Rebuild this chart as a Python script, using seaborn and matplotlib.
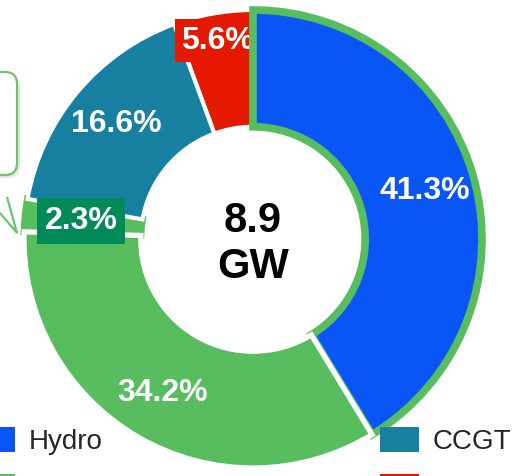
import matplotlib
matplotlib.use("Agg")
import matplotlib.pyplot as plt
from matplotlib.patches import Patch, FancyBboxPatch, Polygon
from matplotlib.transforms import IdentityTransform
import seaborn as sns

# installed capacity split (share of total, %)
sources = ["Hydro", "Renewables", "New renewables", "CCGT", "Other thermal"]
shares = [41.3, 34.2, 2.3, 16.6, 5.6]
colours = ["#0A55F6", "#57BD5F", "#57BD5F", "#1780A1", "#E51900"]
total_gw = 8.9

# legend (two columns; the second row is cut off in the slide)
legend_left = ["Hydro", ""]
legend_left_colours = ["#0A55F6", "#57BD5F"]
legend_right = ["CCGT", ""]
legend_right_colours = ["#1780A1", "#E51900"]

highlight = "#57BD5F"
label_box = "#008A57"

sns.set_theme(style="white")
plt.rcParams["font.family"] = ["Liberation Sans", "DejaVu Sans"]

W, H = 513, 476
fig = plt.figure(figsize=(W / 100, H / 100), dpi=100)
ax = fig.add_axes([0, 0, 1, 1])

wedges, texts, autotexts = ax.pie(
    shares, colors=colours, startangle=90, counterclock=False, radius=1,
    autopct="%.1f%%", pctdistance=0.78,
    wedgeprops=dict(width=0.51, edgecolor="white", linewidth=3),
    textprops=dict(color="white", fontsize=23, fontweight="bold"),
)

# drawing order: red < 2.3% < CCGT < red label < hydro < renewables
wedges[4].set_zorder(1)
wedges[2].set_zorder(1.1)
wedges[3].set_zorder(1.2)
wedges[0].set_zorder(2)
wedges[1].set_zorder(3)
wedges[1].set_linewidth(3.8)

# highlighted slices get a green outline
wedges[0].set_edgecolor(highlight)
wedges[0].set_linewidth(5.5)
wedges[2].set_edgecolor(highlight)
wedges[2].set_linewidth(5)

for t in autotexts:
    t.set_zorder(5)

# small slices: boxed labels
x, y = autotexts[4].get_position()
autotexts[4].set_position((x * 0.88 / 0.78, y * 0.88 / 0.78))
autotexts[4].set_bbox(dict(boxstyle="square,pad=0.2", fc=colours[4], ec="none"))
autotexts[4].set_zorder(1.8)
x, y = autotexts[2].get_position()
autotexts[2].set_position((x * 0.755 / 0.78, y * 0.755 / 0.78))
autotexts[2].set_bbox(dict(boxstyle="square,pad=0.25", fc=label_box, ec="none"))

ax.text(0, -0.023, f"{total_gw}\nGW", ha="center", va="center",
        fontsize=30, fontweight="bold", color="black", linespacing=1.2)

# map the axes so that the ring sits where it does in the slide
scale = 229
cx, cy = 253, 239
ax.set_aspect("auto")
ax.set_xlim(-cx / scale, (W - cx) / scale)
ax.set_ylim(-(H - cy) / scale, cy / scale)
ax.axis("off")

# callout bubble on the left (mostly cut off)
shadow = FancyBboxPatch((-80 + 3, H - 175 - 3), 97, 103,
                        boxstyle="round,pad=0,rounding_size=12",
                        fc="#bbbbbb", ec="none", alpha=0.35,
                        transform=IdentityTransform())
fig.add_artist(shadow)
bubble = FancyBboxPatch((-80, H - 175), 97, 103,
                        boxstyle="round,pad=0,rounding_size=12",
                        fc="white", ec="#6CC46E", lw=1.6,
                        transform=IdentityTransform())
fig.add_artist(bubble)
tail = Polygon([(7, H - 197), (17, H - 233), (0, H - 213)], closed=False,
               fc="white", ec="#6CC46E", lw=1.6, transform=IdentityTransform())
fig.add_artist(tail)

fs = 20
common = dict(frameon=False, fontsize=fs, handlelength=1.4, handleheight=1.0,
              handletextpad=0.5, labelspacing=0.67, borderpad=0, borderaxespad=0,
              loc="upper left", bbox_transform=IdentityTransform())
leg1 = fig.legend([Patch(fc=c, ec="none") for c in legend_left_colours], legend_left,
                  bbox_to_anchor=(-24, H - 427), **common)
leg2 = fig.legend([Patch(fc=c, ec="none") for c in legend_right_colours], legend_right,
                  bbox_to_anchor=(380, H - 427), **common)

fig.savefig("out.png", dpi=100)
